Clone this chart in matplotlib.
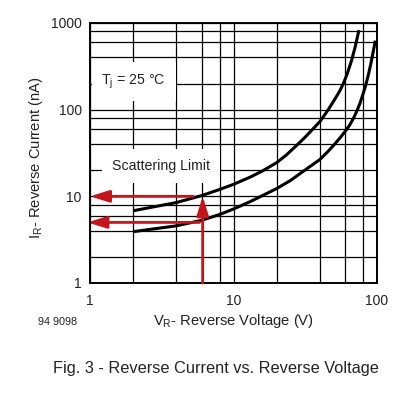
import matplotlib
matplotlib.use("Agg")
import matplotlib.pyplot as plt
from matplotlib.ticker import LogLocator, NullFormatter, FixedLocator, FixedFormatter

plt.rcParams["font.family"] = ["Liberation Sans", "DejaVu Sans"]
plt.rcParams["mathtext.fontset"] = "custom"
plt.rcParams["mathtext.rm"] = "Liberation Sans"

# curves (V in volts, I in nA)
upper_v = [2, 4, 6, 8, 10, 13.1, 15.9, 20, 23.3, 27.7, 31.1, 35.2, 40, 45.3,
           50.4, 54.7, 58.3, 62.1, 66.3, 70.1, 73.0, 74.8]
upper_i = [6.82, 8.48, 10.2, 12.0, 13.75, 16.7, 19.6, 24.5, 29.9, 39.1, 47.0, 58.2,
           72.9, 97.6, 129, 161.7, 200, 261, 364, 513, 688, 828]

lower_v = [2, 4, 6, 8, 10, 13.1, 16.2, 20, 24.9, 31.1, 40, 45.1, 50.4, 55.5, 60.2,
           64.2, 68.4, 72.4, 76.0, 79.7, 83.7, 87.8, 91.4, 94.4, 96.4, 97.4]
lower_i = [3.91, 4.57, 5.29, 6.17, 7.14, 8.71, 10.35, 12.3, 15.2, 19.8, 26.6, 32.4,
           39.6, 47.7, 56.6, 65.6, 78.9, 96.4, 117.6, 149.3, 194.8, 268, 364, 481,
           571, 626]

# scattering limit read-out
limit_v = 6.1
limit_i = [10, 5]
arrow_start_v = [5.25, 5.8]
arrow_end_v = [1.0, 0.96]

x_ticks = [1, 10, 100]
x_labels = ["1", "10", "100"]
y_ticks = [1, 10, 100, 1000]
y_labels = ["1", "10", "100", "1000"]

red = "#C3161C"
ink = "#222222"

fig = plt.figure(figsize=(4.16, 4.05), dpi=100)
ax = fig.add_axes([90 / 416, 122 / 405, 287 / 416, 260 / 405])

ax.set_xscale("log")
ax.set_yscale("log")
ax.set_xlim(1, 100)
ax.set_ylim(1, 1000)

ax.xaxis.set_major_locator(FixedLocator(x_ticks))
ax.xaxis.set_major_formatter(FixedFormatter(x_labels))
ax.yaxis.set_major_locator(FixedLocator(y_ticks))
ax.yaxis.set_major_formatter(FixedFormatter(y_labels))
ax.xaxis.set_minor_locator(LogLocator(base=10, subs=[2, 4, 6, 8]))
ax.yaxis.set_minor_locator(LogLocator(base=10, subs=[2, 4, 6, 8]))
ax.xaxis.set_minor_formatter(NullFormatter())
ax.yaxis.set_minor_formatter(NullFormatter())
ax.tick_params(which="both", length=0, labelsize=10, colors=ink)
ax.tick_params(axis="x", pad=8)
ax.tick_params(axis="y", pad=6)

ax.set_axisbelow(True)
ax.grid(which="both", color="black", linewidth=0.9)
for s in ax.spines.values():
    s.set_linewidth(1.4)

ax.plot(upper_v, upper_i, color="black", linewidth=2.2,
        solid_capstyle="butt", solid_joinstyle="round")
ax.plot(lower_v, lower_i, color="black", linewidth=2.2,
        solid_capstyle="butt", solid_joinstyle="round")

arrow_style = dict(arrowstyle="-|>,head_length=1.15,head_width=0.36",
                   color=red, linewidth=2.0, shrinkA=0, shrinkB=0,
                   mutation_scale=10)
for i, sv, ev in zip(limit_i, arrow_start_v, arrow_end_v):
    ax.annotate("", xy=(ev, i), xytext=(sv, i), arrowprops=arrow_style,
                annotation_clip=False, zorder=4)
ax.annotate("", xy=(limit_v, limit_i[0]), xytext=(limit_v, 1),
            arrowprops=arrow_style, annotation_clip=False, zorder=4)

box = dict(boxstyle="square,pad=0.7", facecolor="white", edgecolor="none")
ax.text(0.152, 0.775, r"T$_\mathregular{j}$ = 25 °C", transform=ax.transAxes,
        ha="center", va="center", fontsize=10.2, color=ink, bbox=box, zorder=3)
ax.text(0.247, 0.45, "Scattering Limit", transform=ax.transAxes,
        ha="center", va="center", fontsize=10.2, color=ink, bbox=box, zorder=3)

ax.set_xlabel(r"V$_\mathregular{R}$- Reverse Voltage (V)", fontsize=10.6, color=ink)
ax.set_ylabel(r"I$_\mathregular{R}$- Reverse Current (nA)", fontsize=10.6, color=ink)
ax.xaxis.set_label_coords(0.5, -0.11)
ax.yaxis.set_label_coords(-0.157, 0.483)

fig.text(58 / 416, 1 - 322 / 405, "94 9098", ha="center", va="center",
         fontsize=7.8, color=ink)
fig.text(216 / 416, 1 - 368 / 405, "Fig. 3 - Reverse Current vs. Reverse Voltage",
         ha="center", va="center", fontsize=11.8, color=ink)

fig.savefig("out.png", dpi=100)
